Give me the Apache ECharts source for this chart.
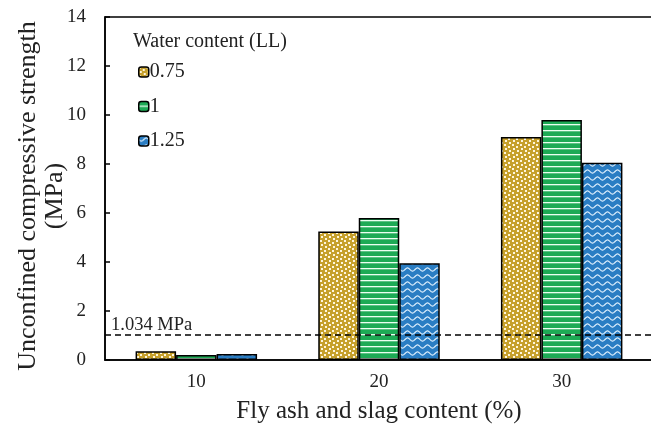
<!DOCTYPE html>
<html>
<head>
<meta charset="utf-8">
<script src="https://cdn.jsdelivr.net/npm/echarts@6/dist/echarts.min.js"></script>
<style>html,body{margin:0;padding:0;background:#fff}#c{width:651px;height:427px}</style>
</head>
<body>
<div id="c"></div>
<script>
// ---- data ----
const categories = ['10', '20', '30'];
const seriesNames = ['0.75', '1', '1.25'];
const ll075 = [0.36, 5.25, 9.1];
const ll100 = [0.2, 5.8, 9.8];
const ll125 = [0.25, 3.95, 8.05];
const yMin = 0, yMax = 14, yStep = 2;
const thresholdValue = 1.034;
const thresholdLabel = '1.034 MPa';
const legendTitle = 'Water content (LL)';
const xTitle = 'Fly ash and slag content (%)';
const yTitle = 'Unconfined compressive strength\n(MPa)';

// ---- patterns ----
function dotsPattern() {
  const c = document.createElement('canvas'); c.width = 8; c.height = 8;
  const g = c.getContext('2d');
  g.fillStyle = '#c6a02b'; g.fillRect(0, 0, 8, 8);
  g.fillStyle = '#fff6dc';
  [[0,0],[4,2],[1,4],[5,6]].forEach(p => g.fillRect(p[0], p[1], 2, 2));
  return c;
}
function linesPattern() {
  const c = document.createElement('canvas'); c.width = 8; c.height = 6;
  const g = c.getContext('2d');
  g.fillStyle = '#1daa55'; g.fillRect(0, 0, 8, 6);
  g.fillStyle = '#eafff0'; g.fillRect(0, 4, 8, 1.3);
  return c;
}
function wavesPattern() {
  const c = document.createElement('canvas'); c.width = 10; c.height = 7;
  const g = c.getContext('2d');
  g.fillStyle = '#2a7dc3'; g.fillRect(0, 0, 10, 7);
  g.strokeStyle = '#e6f4ff'; g.lineWidth = 1.1;
  g.beginPath();
  for (let x = 0; x <= 10; x += 0.5) {
    const y = 3.5 + 1.6 * Math.sin(x / 10 * 2 * Math.PI);
    if (x === 0) g.moveTo(x, y); else g.lineTo(x, y);
  }
  g.stroke();
  return c;
}
const fills = [dotsPattern(), linesPattern(), wavesPattern()].map(cv => ({ image: cv, repeat: 'repeat' }));
const values = [ll075, ll100, ll125];

const font = 'Liberation Serif';
const chart = echarts.init(document.getElementById('c'), null, { renderer: 'canvas' });

const series = seriesNames.map((name, i) => ({
  name: name,
  type: 'bar',
  data: values[i],
  barWidth: 40.5,
  barGap: '0%',
  itemStyle: { color: fills[i], borderColor: '#000', borderWidth: 1.5 },
  markLine: i === 0 ? {
    symbol: 'none',
    silent: true,
    lineStyle: { color: '#000', type: [6, 4], width: 1.5 },
    label: { show: true, position: 'insideStartTop', formatter: thresholdLabel, fontFamily: font, fontSize: 18.5, color: '#222', distance: [6, 0] },
    data: [{ yAxis: thresholdValue }]
  } : undefined
}));

chart.setOption({
  animation: false,
  backgroundColor: '#fff',
  grid: { left: 105, top: 17, right: -2, bottom: 67, show: true, borderColor: '#000', borderWidth: 1.5, containLabel: false, outerBoundsMode: 'none' },
  legend: {
    orient: 'vertical',
    left: 133, top: 57,
    itemWidth: 10, itemHeight: 10,
    itemGap: 14.5,
    data: seriesNames,
    itemStyle: { borderColor: '#000', borderWidth: 1.5 },
    textStyle: { fontFamily: font, fontSize: 20, color: '#222', lineHeight: 20, padding: [0, 0, 0, -4] }
  },
  graphic: [{
    type: 'text', left: 133, top: 32,
    style: { text: legendTitle, font: '20px "Liberation Serif"', fill: '#222' }
  }, {
    type: 'text', x: 42, y: 196, rotation: Math.PI / 2,
    style: { text: yTitle, font: '26px "Liberation Serif"', fill: '#222', align: 'center', verticalAlign: 'middle', lineHeight: 27 }
  }],
  xAxis: {
    type: 'category',
    data: categories,
    name: xTitle,
    nameLocation: 'middle',
    nameGap: 39,
    nameTextStyle: { fontFamily: font, fontSize: 25, color: '#222' },
    axisLine: { lineStyle: { color: '#000', width: 1.5 } },
    axisTick: { inside: true, length: 6, lineStyle: { color: '#000', width: 1.5 } },
    axisLabel: { fontFamily: font, fontSize: 19, color: '#222', margin: 13 }
  },
  yAxis: {
    type: 'value',
    min: yMin, max: yMax, interval: yStep,
    splitLine: { show: false },
    axisLine: { show: true, lineStyle: { color: '#000', width: 1.5 } },
    axisTick: { show: true, inside: true, length: 5, lineStyle: { color: '#000', width: 1.5 } },
    axisLabel: { fontFamily: font, fontSize: 19, color: '#222', margin: 19 }
  },
  series: series
});
</script>
</body>
</html>
